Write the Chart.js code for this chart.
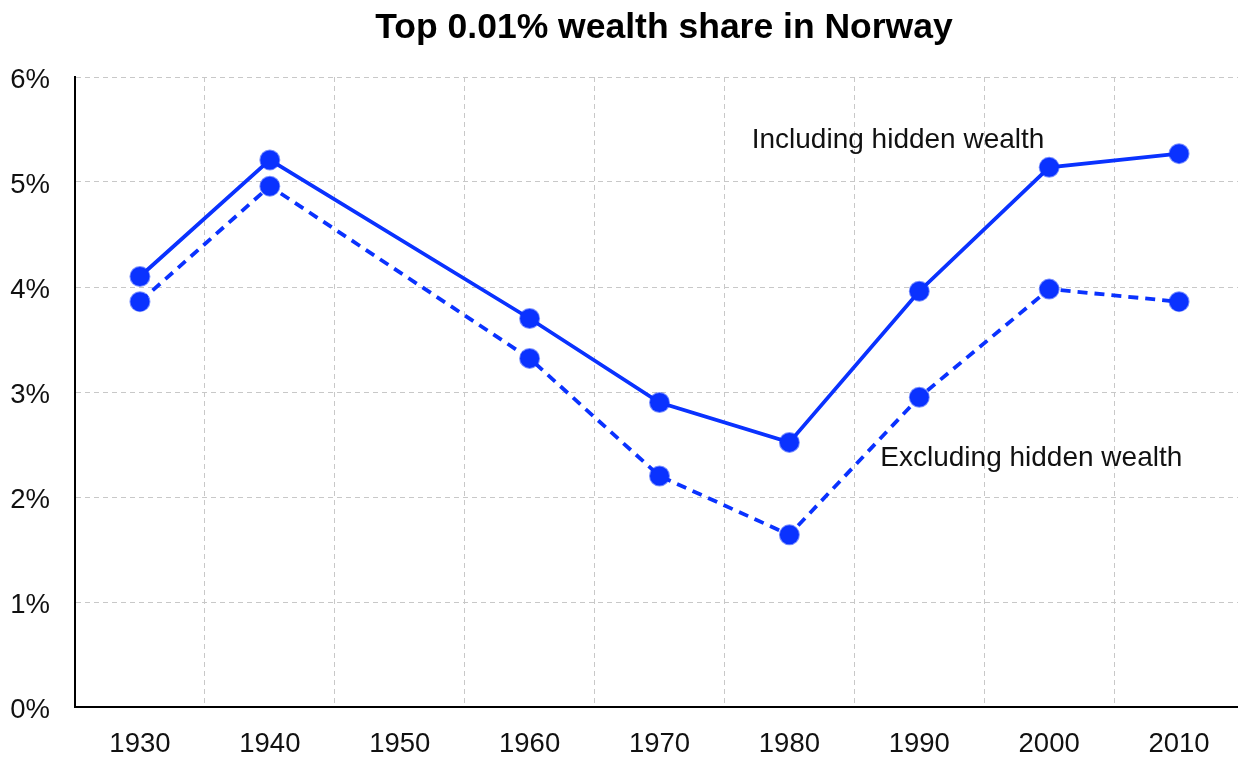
<!DOCTYPE html>
<html lang="en">
<head>
    <meta charset="UTF-8">
    <title>Top 0.01% wealth share in Norway</title>
    <script src="https://cdn.jsdelivr.net/npm/chart.js"></script>
    <style>
        html, body { margin: 0; padding: 0; background: #fff; overflow: hidden; }
        #wrap { width: 1238px; height: 758px; overflow: hidden; }
    </style>
</head>
<body>
    <!-- plot runs a few pixels past the right edge, like the last grid column -->
    <div id="wrap"><canvas id="wealthChart" width="1244" height="758"></canvas></div>
    <script>
        // years (1950 has no observation, lines span over it)
        const years = ['1930', '1940', '1950', '1960', '1970', '1980', '1990', '2000', '2010'];
        const withHidden = [4.10, 5.21, null, 3.70, 2.90, 2.52, 3.96, 5.14, 5.27];
        const withoutHidden = [3.86, 4.96, null, 3.32, 2.20, 1.64, 2.95, 3.98, 3.86];

        // line labels: text, position along the category axis, value (%)
        const labelTexts = ['Including hidden wealth', 'Excluding hidden wealth'];
        const labelAt = [4.71, 5.70];
        const labelValue = [5.40, 2.37];

        const titleText = 'Top 0.01% wealth share in Norway';

        const blue = '#0a32ff';
        const font = '"Liberation Sans", Arial, sans-serif';

        // title sits a bit right of the canvas centre, so it is drawn by hand
        const chartTitle = {
            id: 'chartTitle',
            afterDraw(chart) {
                const ctx = chart.ctx;
                ctx.save();
                ctx.fillStyle = '#000';
                ctx.font = 'bold 35.5px ' + font;
                ctx.textAlign = 'center';
                ctx.textBaseline = 'middle';
                ctx.fillText(titleText, 664, 28);
                ctx.restore();
            }
        };

        const lineLabels = {
            id: 'lineLabels',
            afterDatasetsDraw(chart) {
                const ctx = chart.ctx;
                const x = chart.scales.x, y = chart.scales.y;
                ctx.save();
                ctx.fillStyle = '#111';
                ctx.font = '28px ' + font;
                ctx.textAlign = 'left';
                ctx.textBaseline = 'middle';
                labelTexts.forEach((t, i) => {
                    ctx.fillText(t, x.getPixelForValue(labelAt[i]), y.getPixelForValue(labelValue[i]));
                });
                ctx.restore();
            }
        };

        const pointStyle = {
            borderColor: blue,
            backgroundColor: blue,
            borderWidth: 3.8,
            pointRadius: 9.5,
            pointBorderWidth: 2,
            pointBorderColor: 'rgba(10,50,255,0.55)',
            pointBackgroundColor: blue,
            spanGaps: true,
            tension: 0
        };

        new Chart(document.getElementById('wealthChart'), {
            type: 'line',
            data: {
                labels: years,
                datasets: [
                    Object.assign({ data: withHidden }, pointStyle),
                    Object.assign({ data: withoutHidden, borderDash: [10, 7] }, pointStyle)
                ]
            },
            options: {
                responsive: false,
                animation: false,
                layout: { autoPadding: false, padding: { left: 0, right: 0, top: 77, bottom: 0 } },
                plugins: {
                    legend: { display: false },
                    tooltip: { enabled: false },
                    title: { display: false }
                },
                scales: {
                    x: {
                        offset: true,
                        grid: { color: '#c8c8c8', lineWidth: 1, drawTicks: false, offset: true },
                        border: { color: '#000', width: 2, dash: [5, 4] },
                        ticks: { color: '#111', font: { family: font, size: 27.5 }, padding: 21, maxRotation: 0 },
                        afterFit(scale) { scale.height = 51; }
                    },
                    y: {
                        min: 0,
                        max: 6,
                        grid: { color: '#c8c8c8', lineWidth: 1, drawTicks: false },
                        border: { color: '#000', width: 2, dash: [5, 4] },
                        ticks: {
                            stepSize: 1,
                            color: '#111',
                            font: { family: font, size: 27.5 },
                            padding: 25,
                            labelOffset: 3,
                            callback: v => v + '%'
                        },
                        afterFit(scale) { scale.width = 75; }
                    }
                }
            },
            plugins: [lineLabels, chartTitle]
        });
    </script>
</body>
</html>
